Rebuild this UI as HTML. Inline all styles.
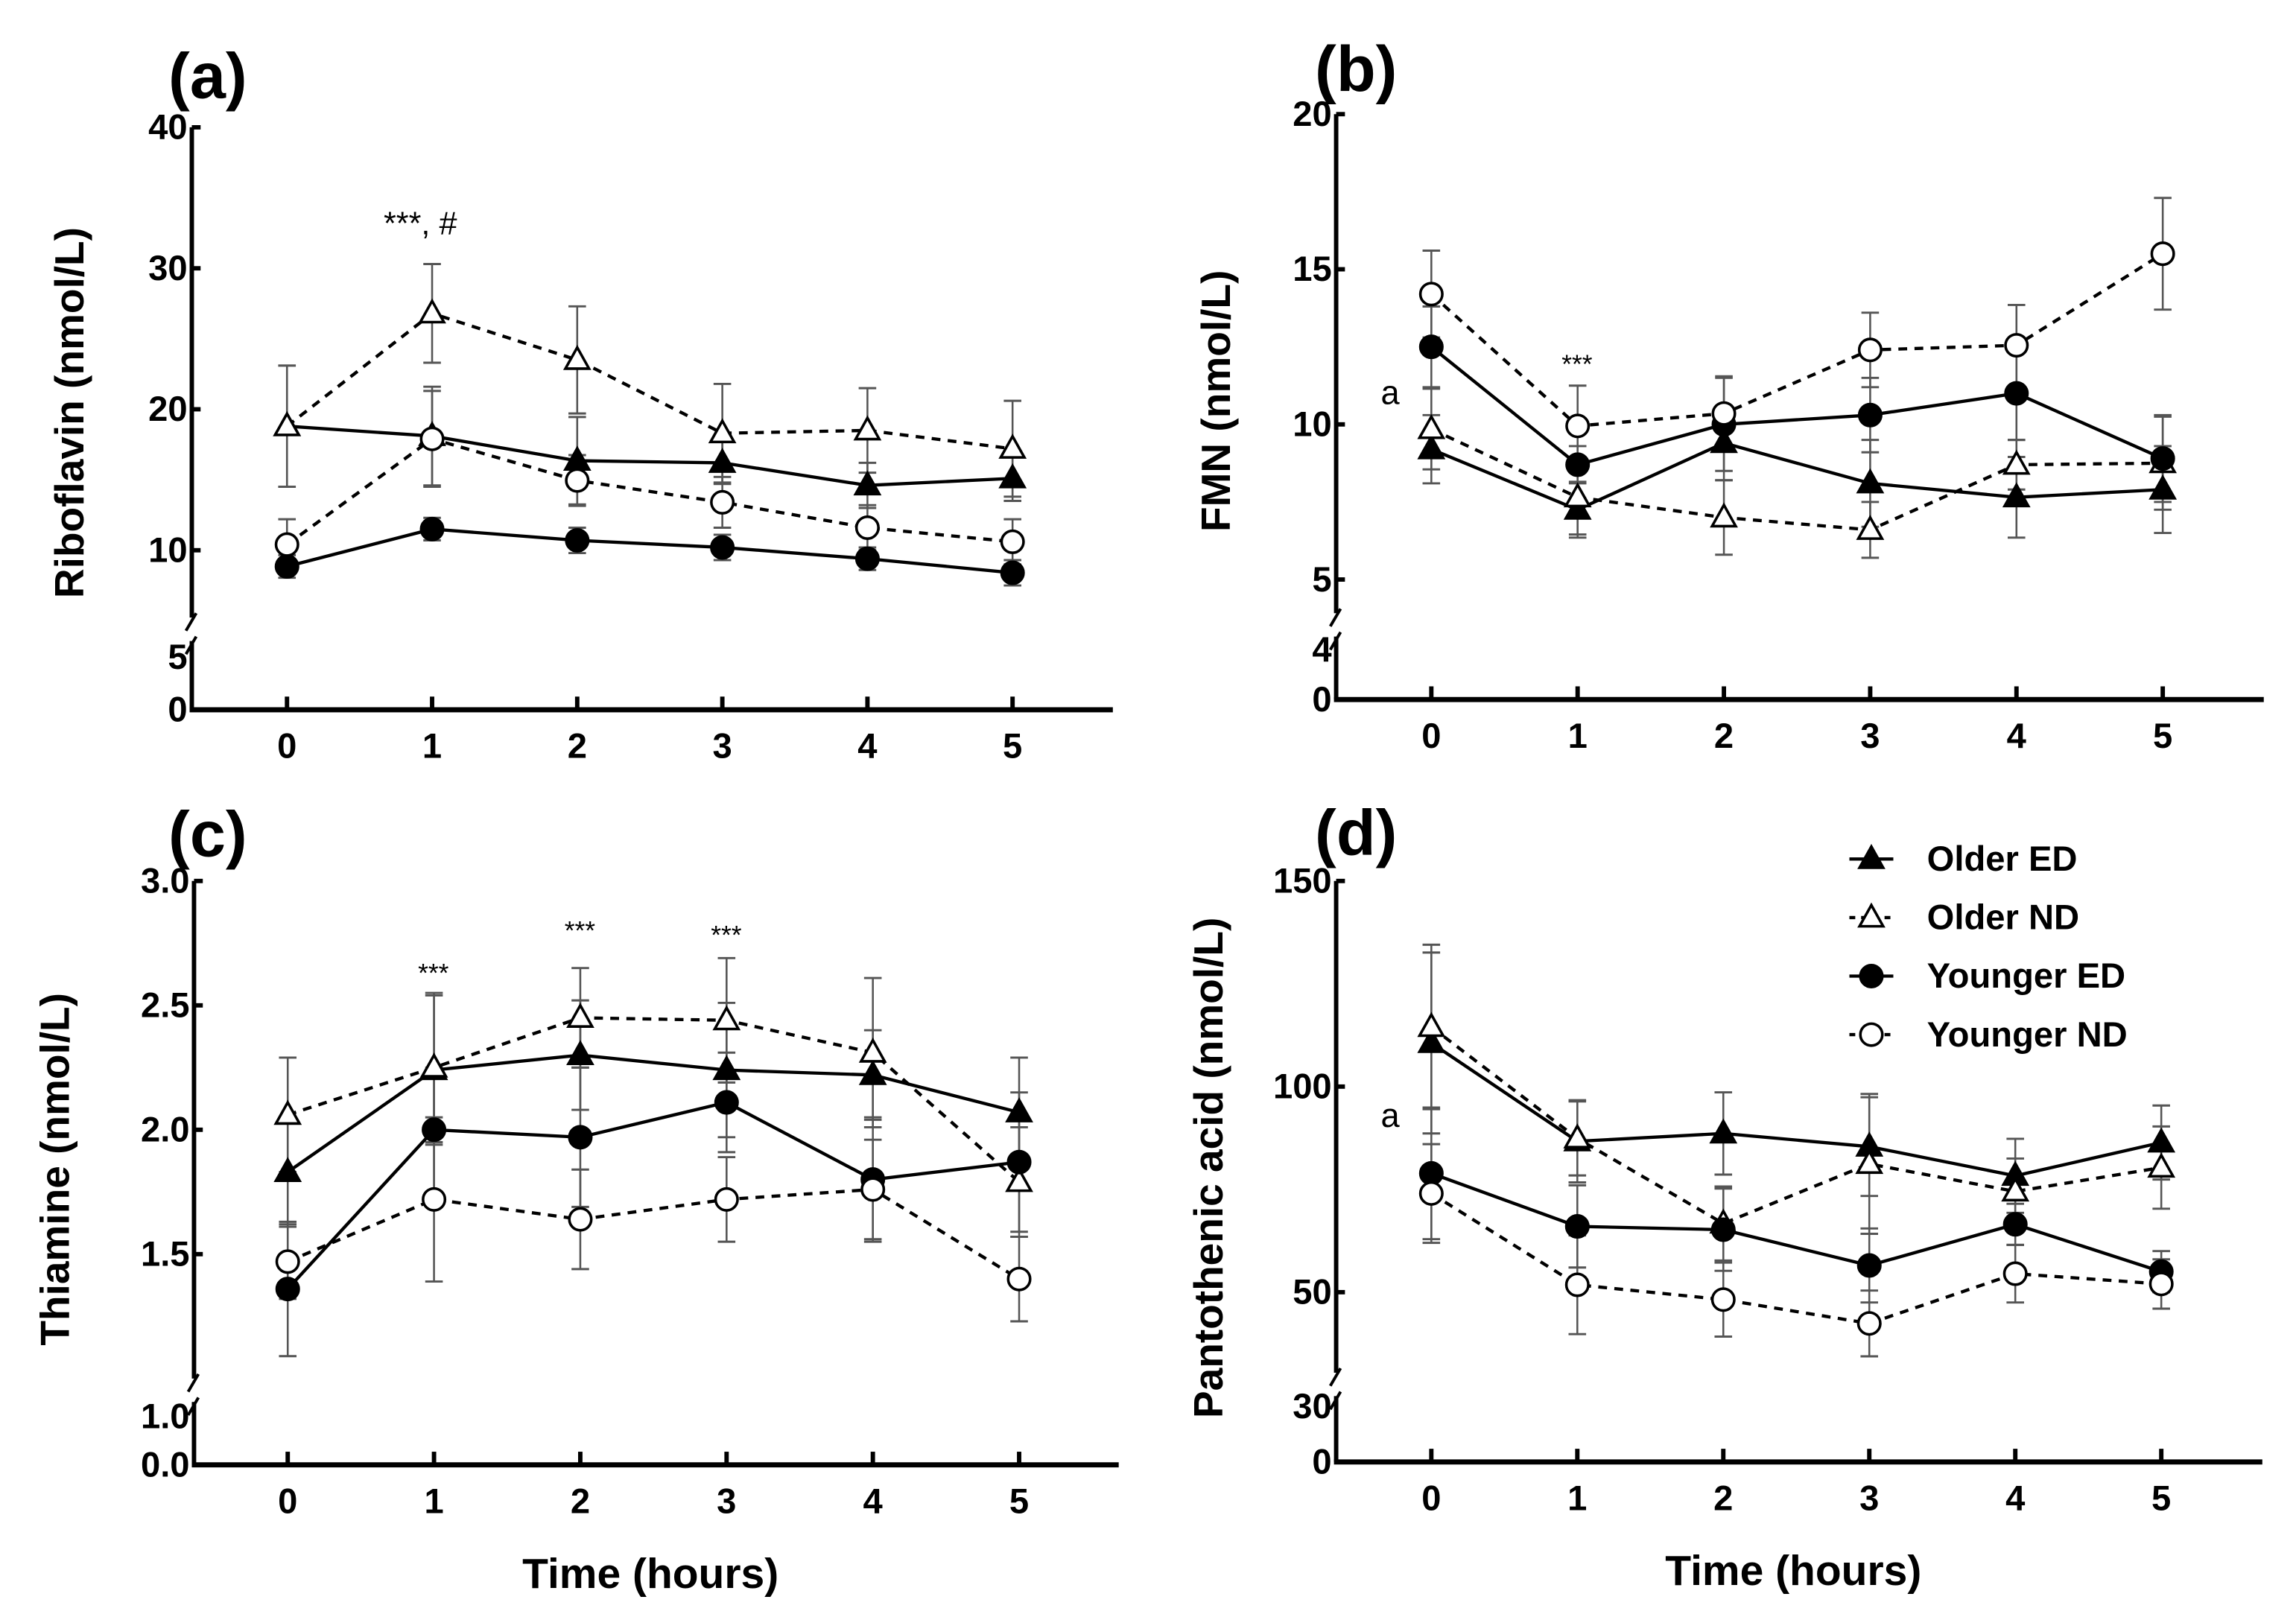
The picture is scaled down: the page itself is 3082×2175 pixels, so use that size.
<!DOCTYPE html>
<html><head><meta charset="utf-8"><style>
html,body{margin:0;padding:0;background:#fff;}
svg{display:block;}
text{font-family:"Liberation Sans",Arial,sans-serif;}
</style></head><body>
<svg id="fig" width="3082" height="2175" viewBox="0 0 1568 1107" preserveAspectRatio="none" xmlns="http://www.w3.org/2000/svg">
<rect width="1568" height="1107" fill="#fff"/>
</svg>
<script>
const times = [0,1,2,3,4,5];
// Panel (a) Riboflavin
const aOlderED = [18.8,18.1,16.35,16.2,14.6,15.1];
const aOlderEDerr = [4.3,3.5,3.1,1.5,1.6,1.6];
const aOlderND = [18.8,26.8,23.5,18.3,18.5,17.2];
const aOlderNDerr = [4.3,3.5,3.8,3.5,3.0,3.4];
const aYoungED = [8.85,11.5,10.7,10.2,9.4,8.4];
const aYoungEDerr = [0.8,0.8,0.9,0.9,0.8,0.9];
const aYoungND = [10.4,17.9,14.95,13.4,11.6,10.6];
const aYoungNDerr = [1.8,3.4,1.8,1.8,1.6,1.6];
// Panel (b) FMN
const bOlderED = [9.2,7.25,9.4,8.1,7.65,7.9];
const bOlderEDerr = [1.1,0.9,1.2,1.4,1.3,1.4];
const bOlderND = [9.85,7.65,7.0,6.6,8.7,8.75];
const bOlderNDerr = [1.3,1.2,1.2,0.9,0.8,1.5];
const bYoungED = [12.5,8.7,10.0,10.3,11.0,8.9];
const bYoungEDerr = [1.3,0.6,1.5,1.2,1.5,1.4];
const bYoungND = [14.2,9.95,10.35,12.4,12.55,15.5];
const bYoungNDerr = [1.4,1.3,1.2,1.2,1.3,1.8];
// Panel (c) Thiamine
const cOlderED = [1.83,2.24,2.30,2.24,2.22,2.07];
const cOlderEDerr = [0.22,0.3,0.22,0.27,0.18,0.22];
const cOlderND = [2.06,2.25,2.45,2.44,2.31,1.79];
const cOlderNDerr = [0.23,0.3,0.2,0.25,0.3,0.22];
const cYoungED = [1.36,2.0,1.97,2.11,1.80,1.87];
const cYoungEDerr = [0.27,0.25,0.28,0.2,0.25,0.28];
const cYoungND = [1.47,1.72,1.64,1.72,1.76,1.40];
const cYoungNDerr = [0.15,0.33,0.2,0.17,0.2,0.17];
// Panel (d) Pantothenic acid
const dOlderED = [110.6,86.7,88.6,85.4,78.3,86.4];
const dOlderEDerr = [22,10,10,12,9,9];
const dOlderND = [114.5,87.4,66.7,81.2,74.5,80.3];
const dOlderNDerr = [20,9,9,17,8,10];
const dYoungED = [78.9,66,65.2,56.5,66.5,55];
const dYoungEDerr = [16,10,10,9,5,5];
const dYoungND = [74,51.8,48.2,42.4,54.5,52];
const dYoungNDerr = [12,12,9,8,7,6];
const aTicks = ["40","30","20","10"]; const aTickVals=[40,30,20,10];
const bTicks = ["20","15","10","5"]; const bTickVals=[20,15,10,5];
const cTicks = ["3.0","2.5","2.0","1.5"]; const cTickVals=[3.0,2.5,2.0,1.5];
const dTicks = ["150","100","50"]; const dTickVals=[150,100,50];

const NS="http://www.w3.org/2000/svg";
const svg=document.getElementById('fig');
function mk(tag,attrs,parent,text){const e=document.createElementNS(NS,tag);for(const k in attrs)e.setAttribute(k,attrs[k]);if(text!==undefined)e.textContent=text;(parent||svg).appendChild(e);return e;}

const panels=[
 {id:'a',label:'(a)',lx:115,ly:67,ax:131,axEnd:760,axY:485,x0:196,x1:691.5,v0:40,py0:87,v1:10,py1:376,brk:428,low:[["5",449],["0",485]],
  ticks:aTicks,tickVals:aTickVals,title:'Riboflavin (nmol/L)',tx:48,ty:282,
  s:[aOlderED,aOlderEDerr,aOlderND,aOlderNDerr,aYoungED,aYoungEDerr,aYoungND,aYoungNDerr]},
 {id:'b',label:'(b)',lx:898,ly:62,ax:912.5,axEnd:1546,axY:478,x0:977.5,x1:1477,v0:20,py0:78,v1:5,py1:396,brk:425,low:[["4",444],["0",478]],
  ticks:bTicks,tickVals:bTickVals,title:'FMN (nmol/L)',tx:831,ty:274,
  s:[bOlderED,bOlderEDerr,bOlderND,bOlderNDerr,bYoungED,bYoungEDerr,bYoungND,bYoungNDerr]},
 {id:'c',label:'(c)',lx:115,ly:585,ax:132.5,axEnd:764,axY:1001,x0:196.5,x1:696,v0:3.0,py0:602,v1:1.5,py1:857,brk:948,low:[["1.0",968],["0.0",1001]],
  ticks:cTicks,tickVals:cTickVals,title:'Thiamine (nmol/L)',tx:38,ty:799,time:true,
  s:[cOlderED,cOlderEDerr,cOlderND,cOlderNDerr,cYoungED,cYoungEDerr,cYoungND,cYoungNDerr]},
 {id:'d',label:'(d)',lx:898,ly:584,ax:912.5,axEnd:1545,axY:999,x0:977.5,x1:1476,v0:150,py0:602,v1:50,py1:883,brk:944,low:[["30",961],["0",999]],
  ticks:dTicks,tickVals:dTickVals,title:'Pantothenic acid (nmol/L)',tx:826,ty:798,time:true,
  s:[dOlderED,dOlderEDerr,dOlderND,dOlderNDerr,dYoungED,dYoungEDerr,dYoungND,dYoungNDerr]}
];

function marker(g,type,x,y){
  let el;
  if(type==='tf'||type==='to'){
    const r=8.5;
    el=mk('polygon',{points:`${x},${y-r} ${x+r*0.95},${y+r*0.7} ${x-r*0.95},${y+r*0.7}`,fill:type==='tf'?'#000':'#fff',stroke:'#000','stroke-width':1.8},g);
  } else {
    el=mk('circle',{cx:x,cy:y,r:7.5,fill:type==='cf'?'#000':'#fff',stroke:'#000','stroke-width':1.8},g);
  }
  return el;
}

panels.forEach(p=>{
  const g=mk('g',{});
  
  
  const xs=t=>p.x0+(t)*(p.x1-p.x0)/5;
  const ys=v=>p.py0+(v-p.v0)*(p.py1-p.py0)/(p.v1-p.v0);
  const lab=mk('text',{x:p.lx,y:p.ly,'font-size':44,'font-weight':'bold'},g,p.label);
  
  
  const ya=mk('g',{},g);
  
  
  mk('line',{x1:p.ax,y1:p.py0,x2:p.ax,y2:p.brk-6,stroke:'#000','stroke-width':3},ya);
  mk('line',{x1:p.ax,y1:p.brk+10,x2:p.ax,y2:p.axY,stroke:'#000','stroke-width':3},ya);
  mk('line',{x1:p.ax-4,y1:p.brk+3,x2:p.ax+3,y2:p.brk-9,stroke:'#000','stroke-width':2},ya);
  mk('line',{x1:p.ax-4,y1:p.brk+19,x2:p.ax+3,y2:p.brk+7,stroke:'#000','stroke-width':2},ya);
  p.tickVals.forEach((v,i)=>{
    const y=ys(v);
    mk('line',{x1:p.ax,y1:y,x2:p.ax+6,y2:y,stroke:'#000','stroke-width':3},ya);
    const t=mk('text',{x:p.ax-3,y:y+8,'font-size':24,'font-weight':'bold','text-anchor':'end'},ya,p.ticks[i]);
    
    
  });
  p.low.forEach(l=>{
    const t=mk('text',{x:p.ax-3,y:l[1]+8,'font-size':24,'font-weight':'bold','text-anchor':'end'},ya,l[0]);
    
    
  });
  const yt=mk('text',{x:p.tx,y:p.ty,'font-size':28,'font-weight':'bold','text-anchor':'middle',transform:`rotate(-90 ${p.tx} ${p.ty})`,dy:9},g,p.title);
  
  
  const xa=mk('g',{},g);
  
  
  mk('line',{x1:p.ax-1.5,y1:p.axY,x2:p.axEnd,y2:p.axY,stroke:'#000','stroke-width':3.5},xa);
  times.forEach(t=>{
    const x=xs(t);
    mk('line',{x1:x,y1:p.axY,x2:x,y2:p.axY-9,stroke:'#000','stroke-width':3},xa);
    const tl=mk('text',{x:x,y:p.axY+33,'font-size':24,'font-weight':'bold','text-anchor':'middle'},xa,String(t));
    
    
  });
  if(p.time){
    const tt=mk('text',{x:(p.ax+p.axEnd)/2-4,y:p.axY+84,'font-size':29,'font-weight':'bold','text-anchor':'middle'},g,'Time (hours)');
    
    
  }
  const defs=[['tf',false,'older-ed'],['to',true,'older-nd'],['cf',false,'younger-ed'],['co',true,'younger-nd']];
  const errG=mk('g',{},g);
  defs.forEach((d,k)=>{
    const vals=p.s[k*2], errs=p.s[k*2+1];
    const sg=mk('g',{},g);
    
    
    vals.forEach((v,i)=>{
      const x=xs(times[i]);
      const e=mk('g',{},errG);
      
      
      mk('line',{x1:x,y1:ys(v-errs[i]),x2:x,y2:ys(v+errs[i]),stroke:'#555','stroke-width':1.3},e);
      mk('line',{x1:x-6,y1:ys(v-errs[i]),x2:x+6,y2:ys(v-errs[i]),stroke:'#555','stroke-width':1.5},e);
      mk('line',{x1:x-6,y1:ys(v+errs[i]),x2:x+6,y2:ys(v+errs[i]),stroke:'#555','stroke-width':1.5},e);
    });
    const pts=vals.map((v,i)=>xs(times[i])+','+ys(v)).join(' ');
    const pl=mk('polyline',{points:pts,fill:'none',stroke:'#000','stroke-width':2.2},sg);
    if(d[1]) pl.setAttribute('stroke-dasharray','6,5');
    
    
    vals.forEach((v,i)=>{
      const m=marker(sg,d[0],xs(times[i]),ys(v));
      
      
    });
  });
});

const ann=[[262,160,'***, #',22],[1077,255,'***',18],[296,671,'***',18],[396,642,'***',18],[496,645,'***',18]];
ann.forEach(a=>{
  const t=mk('text',{x:a[0],y:a[1],'font-size':a[3],'text-anchor':a[2].length>3?'start':'middle'},svg,a[2]);
  
  
});
[[943,276],[943,770]].forEach(a=>{
  const t=mk('text',{x:a[0],y:a[1],'font-size':23},svg,'a');
  
  
});

const legNames=['Older ED','Older ND','Younger ED','Younger ND'];
const legTypes=['tf','to','cf','co'];
const legDash=[false,true,false,true];
const lg=mk('g',{});


legNames.forEach((n,i)=>{
  const y=587+i*40;
  const e=mk('g',{},lg);
  
  
  const l=mk('line',{x1:1263,y1:y,x2:1293,y2:y,stroke:'#000','stroke-width':2.2},e);
  if(legDash[i]) l.setAttribute('stroke-dasharray','4,4');
  marker(e,legTypes[i],1278,y);
  mk('text',{x:1316,y:y+8,'font-size':24,'font-weight':'bold'},e,n);
});
</script>
</body></html>
